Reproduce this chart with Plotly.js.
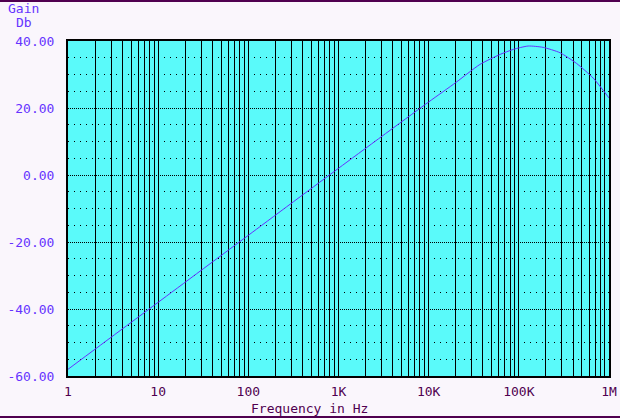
<!DOCTYPE html>
<html>
<head>
<meta charset="utf-8">
<script src="https://cdn.plot.ly/plotly-3.0.1.min.js"></script>
<style>
html,body{margin:0;padding:0;background:#FAF6FC;}
#wrap{position:relative;width:620px;height:418px;overflow:hidden;}
#chart{position:absolute;left:0;top:0;width:620px;height:418px;}
.bar{position:absolute;left:0;width:620px;height:2px;background:#500050;z-index:5;}
</style>
</head>
<body>
<div id="wrap">
<div id="chart"></div>
<div class="bar" style="top:0"></div>
<div class="bar" style="top:416px"></div>
</div>
<script>
// Frequencies (Hz) and gain (dB)
var freqHz = [1, 10, 100, 1000, 10000, 20000, 37000, 62000, 87000, 127000, 186000, 286000, 437000, 670000, 1000000];
var gainDb = [-58.0, -38.0, -18.0, 2.0, 21.8, 27.6, 33.0, 36.0, 37.5, 38.5, 38.1, 36.5, 33.3, 28.9, 23.0];

var xTickVals = [1, 10, 100, 1000, 10000, 100000, 1000000];
var xTickText = ["1", "10", "100", "1K", "10K", "100K", "1M"];
var yTickVals = [-60, -40, -20, 0, 20, 40];
var yTickText = ["-60.00", "-40.00", "-20.00", "0.00", "20.00", "40.00"];

var mono = "DejaVu Sans Mono, monospace";
var violet = "#6633FF";
var purple = "#500050";

var trace = {
  x: freqHz, y: gainDb, type: "scatter", mode: "lines",
  line: {color: violet, width: 1, shape: "spline", smoothing: 0.6},
  hoverinfo: "skip"
};

var layout = {
  width: 620, height: 418,
  margin: {l: 68, r: 11, t: 41, b: 42},
  paper_bgcolor: "#FAF6FC",
  plot_bgcolor: "#5AFAFA",
  showlegend: false,
  font: {family: mono, size: 13},
  xaxis: {
    type: "log", range: [0, 6],
    tickmode: "array", tickvals: xTickVals, ticktext: xTickText,
    tickfont: {family: mono, size: 13, color: purple},
    ticks: "", ticklabelstandoff: 2,
    showgrid: true, gridcolor: "#000000", gridwidth: 1,
    minor: {dtick: "D1", showgrid: true, gridcolor: "#000000", gridwidth: 1, ticks: ""},
    showline: true, mirror: true, linecolor: "#000000", linewidth: 2,
    zeroline: false, fixedrange: true
  },
  yaxis: {
    range: [-60, 40],
    tickmode: "array", tickvals: yTickVals, ticktext: yTickText,
    tickfont: {family: mono, size: 13, color: violet},
    ticks: "", ticklabelstandoff: 9,
    showgrid: true, gridcolor: "#000000", gridwidth: 1, griddash: "1px,1px",
    minor: {dtick: 5, showgrid: true, gridcolor: "#000000", gridwidth: 1, griddash: "1px,5px", ticks: ""},
    showline: true, mirror: true, linecolor: "#000000", linewidth: 2,
    zeroline: false, fixedrange: true
  },
  annotations: [
    {text: "Gain", xref: "paper", yref: "paper", x: -0.115, y: 1.098, xanchor: "left", yanchor: "middle",
     showarrow: false, font: {family: mono, size: 13, color: violet}},
    {text: "Db", xref: "paper", yref: "paper", x: -0.1, y: 1.054, xanchor: "left", yanchor: "middle",
     showarrow: false, font: {family: mono, size: 13, color: violet}},
    {text: "Frequency in Hz", xref: "paper", yref: "paper", x: 0.447, y: -0.098, xanchor: "center", yanchor: "middle",
     showarrow: false, font: {family: mono, size: 13, color: purple}}
  ]
};

Plotly.newPlot("chart", [trace], layout, {displayModeBar: false, staticPlot: true});
</script>
</body>
</html>
